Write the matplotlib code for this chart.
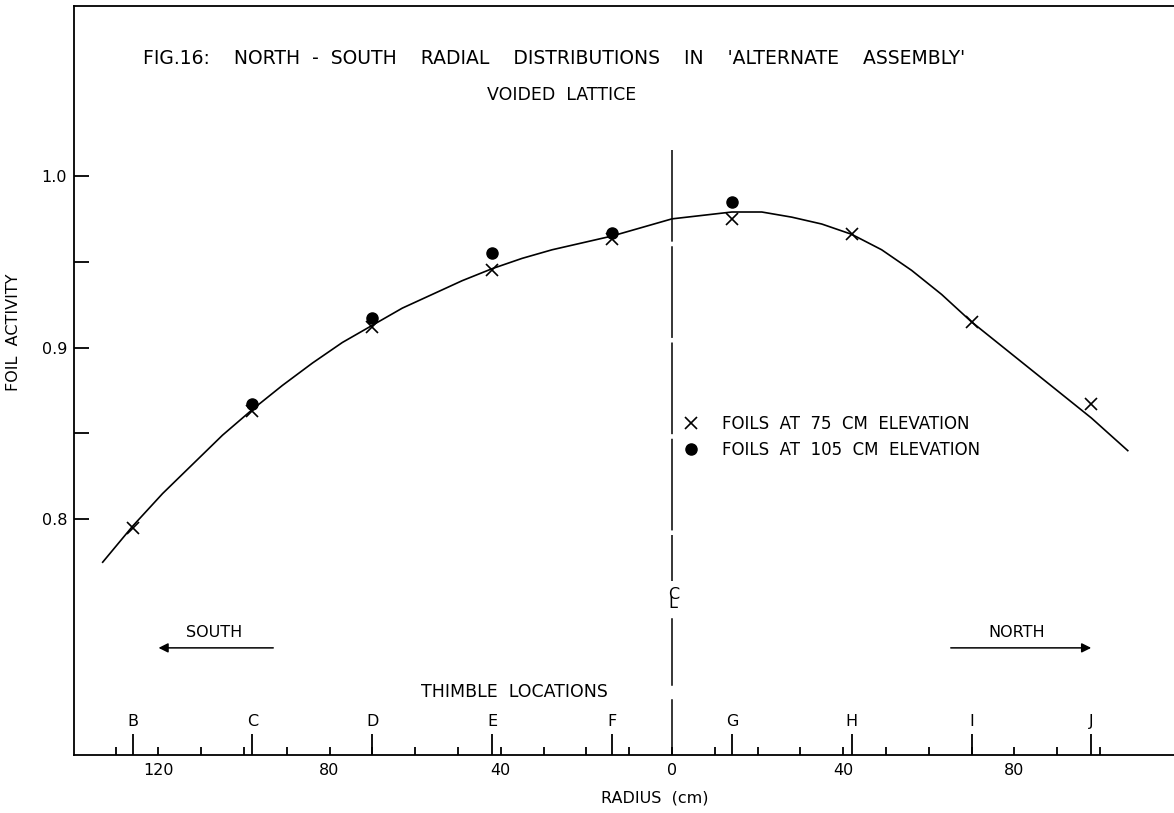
import numpy as np
import matplotlib.pyplot as plt
from matplotlib.ticker import FixedLocator, FuncFormatter

# --- Värden ---
thimble_names = ['B', 'C', 'D', 'E', 'F', 'G', 'H', 'I', 'J']
thimble_r = [-126, -98, -70, -42, -14, 14, 42, 70, 98]  # radie i cm, söder negativ

r_75 = [-126, -98, -70, -42, -14, 14, 42, 70, 98]
act_75 = [0.795, 0.863, 0.912, 0.945, 0.963, 0.975, 0.966, 0.915, 0.867]

r_105 = [-98, -70, -42, -14, 14]
act_105 = [0.867, 0.917, 0.955, 0.967, 0.985]

# handritad kurva, avläst punkt för punkt
curve_r = [-133, -126, -119, -112, -105, -98, -91, -84, -77, -70, -63, -56, -49, -42,
           -35, -28, -21, -14, -7, 0, 7, 14, 21, 28, 35, 42, 49, 56, 63, 70, 77, 84,
           91, 98, 106.5]
curve_act = [0.775, 0.796, 0.815, 0.832, 0.849, 0.864, 0.878, 0.891, 0.903, 0.913,
             0.923, 0.931, 0.939, 0.946, 0.952, 0.957, 0.961, 0.965, 0.970, 0.975,
             0.977, 0.979, 0.979, 0.976, 0.972, 0.966, 0.957, 0.945, 0.931, 0.915,
             0.901, 0.887, 0.873, 0.859, 0.840]

tick_r = list(range(-130, 101, 10))
y_ticks = [0.8, 0.85, 0.9, 0.95, 1.0]

plt.rcParams['font.family'] = 'DejaVu Sans'
plt.rcParams['font.size'] = 11.5

fig = plt.figure(figsize=(11.74, 8.13), dpi=100)
ax = fig.add_axes([74/1174, 1 - 755/813, 1 - 74/1174, 749/813])
ax.set_xlim(-139.7, 117.3)
ax.set_ylim(0.6627, 1.099)

for s in ['left', 'bottom', 'top']:
    ax.spines[s].set_linewidth(1.3)
ax.spines['right'].set_visible(False)

# x-axel: små tickar var 10:e cm, siffror var 40:e (avstånd från centrum)
ax.xaxis.set_major_locator(FixedLocator(tick_r))
ax.xaxis.set_major_formatter(FuncFormatter(lambda v, p: str(abs(int(v))) if int(v) % 40 == 0 else ''))
ax.tick_params(axis='x', direction='in', length=6, width=1.3, pad=6, labelsize=11.5)

ax.yaxis.set_major_locator(FixedLocator(y_ticks))
ax.yaxis.set_major_formatter(FuncFormatter(lambda v, p: '%.1f' % v if abs(v*10 - round(v*10)) < 1e-6 else ''))
ax.tick_params(axis='y', direction='in', length=11, width=1.3, pad=5, labelsize=11.5)

# kurva och mätpunkter
ax.plot(curve_r, curve_act, color='black', lw=1.2)
ax.plot(r_75, act_75, ls='none', marker='x', ms=9, mew=1.2, color='black',
        label='FOILS  AT  75  CM  ELEVATION')
ax.plot(r_105, act_105, ls='none', marker='o', ms=8, color='black',
        label='FOILS  AT  105  CM  ELEVATION')

# centrumlinje, bruten vid CL-tecknet
ax.plot([0, 0], [1.015, 0.764], color='black', lw=1.1, linestyle=(0, (60, 3)))
ax.plot([0, 0], [0.742, 0.7035], color='black', lw=1.1)
ax.plot([0, 0], [0.6948, 0.6627], color='black', lw=1.1)
ax.text(0.3, 0.7535, 'C\nL', ha='center', va='center', fontsize=11.5, linespacing=0.5)

# thimble-markeringar
trans = ax.get_xaxis_transform()
ax.vlines(thimble_r, 0, 0.028, color='black', lw=1.3, transform=trans)
for name, r in zip(thimble_names, thimble_r):
    ax.text(r, 0.0445, name, ha='center', va='center', transform=trans)
ax.text(-36.7, 0.084, 'THIMBLE  LOCATIONS', ha='center', va='center', transform=trans,
        fontsize=12.5)

# söder / norr pilar
ax.annotate('', xy=(-120.6, 0.7251), xytext=(-92.5, 0.7251),
            arrowprops=dict(arrowstyle='-|>', color='black', lw=1.1, mutation_scale=14))
ax.text(-106.9, 0.7338, 'SOUTH', ha='center', va='center')
ax.annotate('', xy=(98.6, 0.7251), xytext=(64.5, 0.7251),
            arrowprops=dict(arrowstyle='-|>', color='black', lw=1.1, mutation_scale=14))
ax.text(80.6, 0.7338, 'NORTH', ha='center', va='center')

ax.legend(loc='upper left', bbox_to_anchor=(0.5455, 0.465), frameon=False,
          handlelength=1.0, handletextpad=1.4, labelspacing=0.45, fontsize=12,
          borderpad=0)

# rubrik
fig.text(143/1174, 1 - 59/813,
         "FIG.16:    NORTH  -  SOUTH    RADIAL    DISTRIBUTIONS    IN    'ALTERNATE    ASSEMBLY'",
         ha='left', va='center', fontsize=13.5)
fig.text(562/1174, 1 - 95/813, 'VOIDED  LATTICE', ha='center', va='center', fontsize=12.5)

ax.set_ylabel('FOIL  ACTIVITY', fontsize=11.5)
ax.yaxis.set_label_coords(-0.048, (755 - 332) / 749)
fig.text(655/1174, 1 - 798/813, 'RADIUS  (cm)', ha='center', va='center', fontsize=11.5)

fig.savefig('out.png', dpi=100)
